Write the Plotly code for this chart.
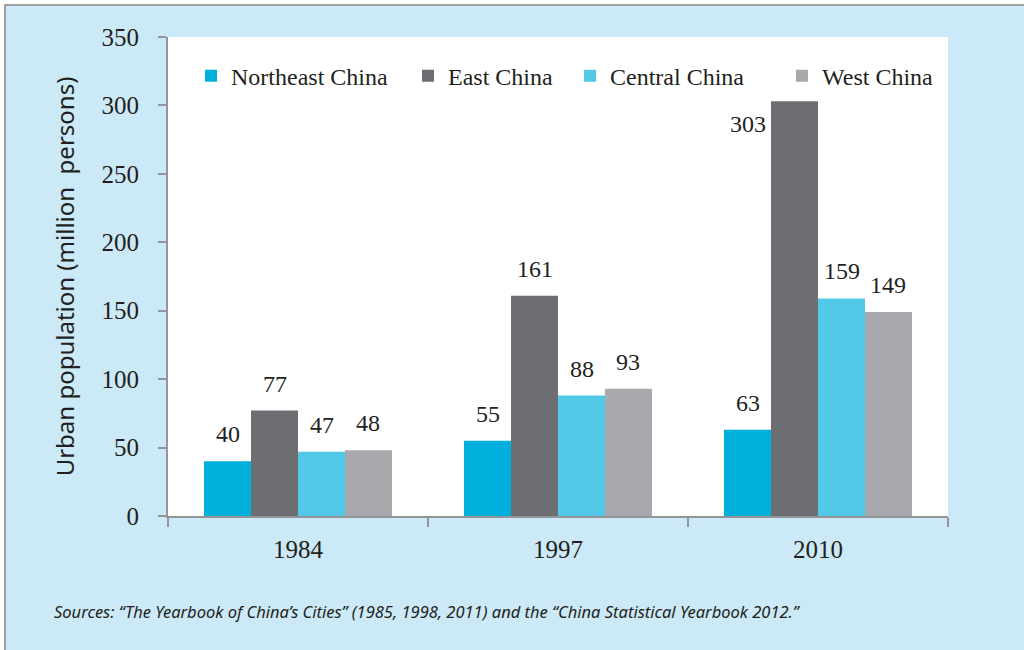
import plotly.graph_objects as go

years = ["1984", "1997", "2010"]
series_names = ["Northeast China", "East China", "Central China", "West China"]
northeast = [40, 55, 63]
east = [77, 161, 303]
central = [47, 88, 159]
west = [48, 93, 149]
values = [northeast, east, central, west]
colors = ["#00b0dc", "#6d6e71", "#52c9e6", "#a7a9ac"]

group_width = 0.723
w = group_width / 4
serif = "Liberation Serif, Times New Roman, serif"
legend_ids = ["legend", "legend2", "legend3", "legend4"]
legend_x = [0.0295, 0.3077, 0.5154, 0.7872]

fig = go.Figure()
for i, (name, vals, col) in enumerate(zip(series_names, values, colors)):
    off = -group_width / 2 + i * w
    fig.add_trace(go.Bar(
        x=years, y=vals, name=name, marker=dict(color=col, line=dict(width=0)),
        width=w, offset=off, legend=legend_ids[i],
    ))

annotations = []
tallest = max(max(s) for s in values)
for i, vals in enumerate(values):
    center_off = -group_width / 2 + (i + 0.5) * w
    for j, v in enumerate(vals):
        if v == tallest:
            annotations.append(dict(x=j + center_off - w, y=v, xref="x", yref="y",
                                    text=str(v), showarrow=False, yanchor="top", yshift=-8,
                                    font=dict(family=serif, size=24, color="#231f20")))
        else:
            annotations.append(dict(x=j + center_off, y=v, xref="x", yref="y",
                                    text=str(v), showarrow=False, yanchor="bottom", yshift=12,
                                    font=dict(family=serif, size=24, color="#231f20")))

annotations.append(dict(
    x=-0.149, y=-0.2, xref="paper", yref="paper", xanchor="left", yanchor="middle",
    text="<i>Sources: “The Yearbook of China’s Cities” (1985, 1998, 2011) and the “China Statistical Yearbook 2012.”</i>",
    showarrow=False, font=dict(family="Noto Sans", size=16.5, color="#231f20")))

legend_common = dict(orientation="h", y=0.965, xanchor="left", yanchor="top",
                     bgcolor="rgba(0,0,0,0)", font=dict(family=serif, size=24, color="#231f20"),
                     itemclick=False, itemdoubleclick=False)

layout_legends = {lid: dict(x=lx, **legend_common) for lid, lx in zip(legend_ids, legend_x)}

px_w = 780.0
px_h = 479.0
bx0 = (5 - 168) / px_w
by1 = 1 + (37 - 5) / px_h

fig.update_layout(
    width=1024, height=650,
    margin=dict(l=168, r=76, t=37, b=134),
    paper_bgcolor="#cbe9f6", plot_bgcolor="#ffffff",
    barmode="overlay",
    showlegend=True,
    annotations=annotations,
    shapes=[
        dict(type="rect", xref="paper", yref="paper", x0=-0.3, x1=bx0, y0=-0.5, y1=1.2,
             line=dict(width=0), fillcolor="#ffffff", layer="below"),
        dict(type="rect", xref="paper", yref="paper", x0=-0.3, x1=1.2, y0=by1, y1=1.2,
             line=dict(width=0), fillcolor="#ffffff", layer="below"),
        dict(type="rect", xref="paper", yref="paper", x0=bx0, x1=1.2, y0=-0.5, y1=by1,
             line=dict(color="#a0a0a0", width=2), fillcolor="rgba(0,0,0,0)", layer="below"),
    ],
    xaxis=dict(type="category", tickson="boundaries", ticks="outside", ticklen=9,
               tickcolor="#939598", tickwidth=2, showline=True, linecolor="#939598", linewidth=2,
               showgrid=False, tickfont=dict(family=serif, size=25, color="#231f20"),
               ticklabelstandoff=10, range=[-0.5, 2.5]),
    yaxis=dict(range=[0, 350], dtick=50, ticks="outside", ticklen=8, tickcolor="#939598", tickwidth=2,
               showline=True, linecolor="#939598", linewidth=2, showgrid=False, zeroline=False,
               tickfont=dict(family=serif, size=25, color="#231f20"), ticklabelstandoff=14,
               title=dict(text="Urban population (million  persons)", standoff=20,
                          font=dict(family="Noto Sans", size=24, color="#231f20"))),
    **layout_legends,
)

fig.write_html("out.html", config={"displayModeBar": False},
               post_script="document.body.style.margin='0';")
